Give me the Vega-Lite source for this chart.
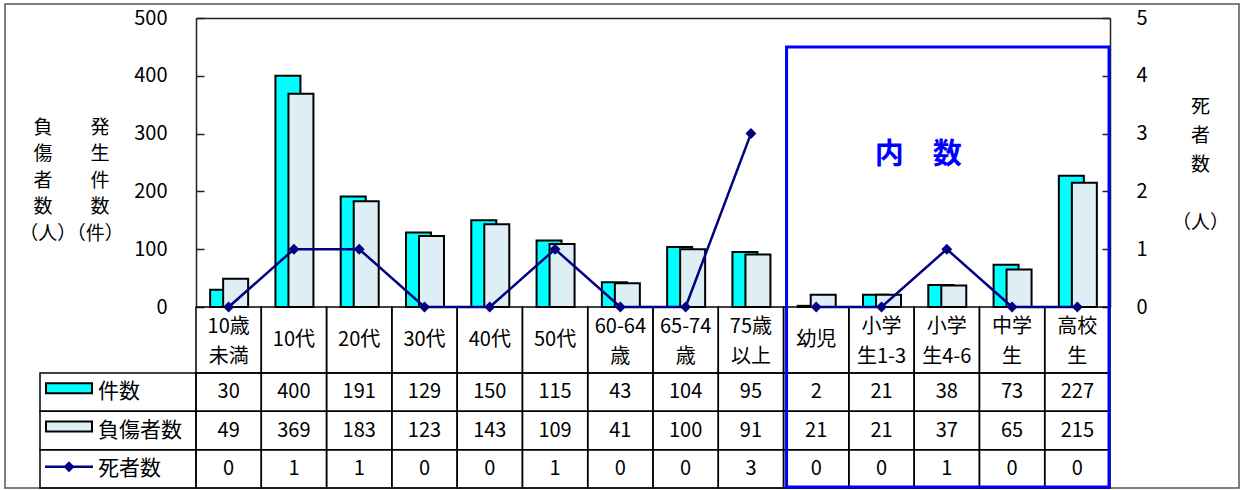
{
  "$schema": "https://vega.github.io/schema/vega-lite/v6.json",
  "width": 1234,
  "height": 484,
  "autosize": {"type": "none"},
  "padding": {"left": 5, "top": 4, "right": 1, "bottom": 2},
  "background": "white",
  "config": {
    "view": {"stroke": "#555555", "strokeWidth": 1.5},
    "font": "Noto Sans CJK JP",
    "text": {"font": "Noto Sans CJK JP", "color": "black"},
    "axis": {"labelFont": "Noto Sans CJK JP", "titleFont": "Noto Sans CJK JP", "labelColor": "black", "titleColor": "black", "grid": false, "domainColor": "#222222", "tickColor": "#222222", "domainWidth": 1.5, "tickWidth": 1.5}
  },
  "datasets": {
    "main": [
      {"cat": "10歳\n未満", "件数": 30, "負傷者数": 49, "死者数": 0, "区分": "全体"},
      {"cat": "10代", "件数": 400, "負傷者数": 369, "死者数": 1, "区分": "全体"},
      {"cat": "20代", "件数": 191, "負傷者数": 183, "死者数": 1, "区分": "全体"},
      {"cat": "30代", "件数": 129, "負傷者数": 123, "死者数": 0, "区分": "全体"},
      {"cat": "40代", "件数": 150, "負傷者数": 143, "死者数": 0, "区分": "全体"},
      {"cat": "50代", "件数": 115, "負傷者数": 109, "死者数": 1, "区分": "全体"},
      {"cat": "60-64\n歳", "件数": 43, "負傷者数": 41, "死者数": 0, "区分": "全体"},
      {"cat": "65-74\n歳", "件数": 104, "負傷者数": 100, "死者数": 0, "区分": "全体"},
      {"cat": "75歳\n以上", "件数": 95, "負傷者数": 91, "死者数": 3, "区分": "全体"},
      {"cat": "幼児", "件数": 2, "負傷者数": 21, "死者数": 0, "区分": "内数"},
      {"cat": "小学\n生1-3", "件数": 21, "負傷者数": 21, "死者数": 0, "区分": "内数"},
      {"cat": "小学\n生4-6", "件数": 38, "負傷者数": 37, "死者数": 1, "区分": "内数"},
      {"cat": "中学\n生", "件数": 73, "負傷者数": 65, "死者数": 0, "区分": "内数"},
      {"cat": "高校\n生", "件数": 227, "負傷者数": 215, "死者数": 0, "区分": "内数"}
    ]
  },
  "resolve": {"scale": {"x": "independent", "y": "independent"}},
  "layer": [
    {
      "data": {"name": "main"},
      "resolve": {"scale": {"y": "independent"}},
      "encoding": {
        "x": {
          "field": "cat", "type": "nominal",
          "scale": {"domain": ["10歳\n未満", "10代", "20代", "30代", "40代", "50代", "60-64\n歳", "65-74\n歳", "75歳\n以上", "幼児", "小学\n生1-3", "小学\n生4-6", "中学\n生", "高校\n生"], "range": [191, 1105], "paddingInner": 0, "paddingOuter": 0},
          "axis": {"orient": "top", "offset": -14, "labels": false, "ticks": false, "title": null, "domainColor": "#222222", "domainWidth": 1.5}
        }
      },
      "layer": [
        {
          "transform": [{"fold": ["cat"], "as": ["rowkey", "label"]}],
          "encoding": {
            "y": {"field": "rowkey", "type": "nominal", "scale": {"domain": ["cat"], "range": [303, 369], "paddingInner": 0, "paddingOuter": 0}, "axis": null}
          },
          "layer": [
            {"mark": {"type": "rect", "fill": "transparent", "stroke": "black", "strokeWidth": 1.5}},
            {
              "transform": [{"filter": "indexof(datum.label, '\\n') < 0"}],
              "mark": {"type": "text", "fontSize": 20, "baseline": "middle", "align": "center"},
              "encoding": {"text": {"field": "label"}}
            },
            {
              "transform": [{"filter": "indexof(datum.label, '\\n') >= 0"}],
              "mark": {"type": "text", "fontSize": 20, "lineBreak": "\n", "lineHeight": 30, "baseline": "middle", "align": "center", "dy": -13},
              "encoding": {"text": {"field": "label"}}
            }
          ]
        },
        {
          "transform": [{"fold": ["件数", "負傷者数", "死者数"], "as": ["row", "val"]}],
          "encoding": {
            "y": {"field": "row", "type": "nominal", "scale": {"domain": ["件数", "負傷者数", "死者数"], "range": [369, 484], "paddingInner": 0, "paddingOuter": 0}, "axis": null}
          },
          "layer": [
            {"mark": {"type": "rect", "fill": "transparent", "stroke": "black", "strokeWidth": 1.5}},
            {"mark": {"type": "text", "fontSize": 20, "baseline": "middle", "align": "center"}, "encoding": {"text": {"field": "val", "type": "quantitative"}}}
          ]
        },
        {
          "layer": [
            {
              "mark": {"type": "bar", "width": 25, "xOffset": -6, "fill": "#00FFFF", "stroke": "black", "strokeWidth": 2},
              "encoding": {
                "y": {
                  "field": "件数", "type": "quantitative",
                  "scale": {"domain": [0, 500], "range": [303, 14], "nice": false},
                  "axis": {
                    "orient": "left", "offset": -191, "values": [0, 100, 200, 300, 400, 500], "tickSize": -8, "labelPadding": 37,
                    "labelFontSize": 20, "labelFlush": false, "labelOverlap": false,
                    "title": ["負　　発", "傷　　生", "者　　件", "数　　数", "（人）（件）"],
                    "titleAngle": 0, "titleAlign": "center", "titleBaseline": "top", "titleX": -125, "titleY": 114,
                    "titleFontSize": 19, "titleFontWeight": "normal", "titleLineHeight": 26.5
                  }
                }
              }
            },
            {
              "mark": {"type": "bar", "width": 25, "xOffset": 7, "fill": "#DDEEF5", "stroke": "black", "strokeWidth": 2},
              "encoding": {
                "y": {
                  "field": "負傷者数", "type": "quantitative",
                  "axis": {
                    "orient": "left", "offset": -191, "values": [0, 100, 200, 300, 400, 500], "tickSize": -8, "labelPadding": 37,
                    "labelFontSize": 20, "labelFlush": false, "labelOverlap": false,
                    "title": ["負　　発", "傷　　生", "者　　件", "数　　数", "（人）（件）"],
                    "titleAngle": 0, "titleAlign": "center", "titleBaseline": "top", "titleX": -125, "titleY": 114,
                    "titleFontSize": 19, "titleFontWeight": "normal", "titleLineHeight": 26.5
                  }
                }
              }
            },
            {
              "data": {"values": [{"from": "幼児", "to": "高校\n生"}]},
              "mark": {"type": "rect", "fill": "transparent", "stroke": "#0000FF", "strokeWidth": 3, "xOffset": 3, "x2Offset": -1, "y2Offset": -1},
              "encoding": {
                "x": {"field": "from", "type": "nominal", "bandPosition": 0},
                "x2": {"field": "to", "bandPosition": 1},
                "y": {
                  "datum": 450, "type": "quantitative",
                  "axis": {
                    "orient": "left", "offset": -191, "values": [0, 100, 200, 300, 400, 500], "tickSize": -8, "labelPadding": 37,
                    "labelFontSize": 20, "labelFlush": false, "labelOverlap": false,
                    "title": ["負　　発", "傷　　生", "者　　件", "数　　数", "（人）（件）"],
                    "titleAngle": 0, "titleAlign": "center", "titleBaseline": "top", "titleX": -125, "titleY": 114,
                    "titleFontSize": 19, "titleFontWeight": "normal", "titleLineHeight": 26.5
                  }
                },
                "y2": {"value": "height"}
              }
            },
            {
              "data": {"values": [{"at": "小学\n生4-6"}]},
              "mark": {"type": "text", "text": "内　数", "fontSize": 29, "fontWeight": "bold", "color": "#0000FF", "dx": 4, "align": "center", "baseline": "middle"},
              "encoding": {
                "x": {"field": "at", "type": "nominal", "bandPosition": 0},
                "y": {
                  "datum": 263, "type": "quantitative",
                  "axis": {
                    "orient": "left", "offset": -191, "values": [0, 100, 200, 300, 400, 500], "tickSize": -8, "labelPadding": 37,
                    "labelFontSize": 20, "labelFlush": false, "labelOverlap": false,
                    "title": ["負　　発", "傷　　生", "者　　件", "数　　数", "（人）（件）"],
                    "titleAngle": 0, "titleAlign": "center", "titleBaseline": "top", "titleX": -125, "titleY": 114,
                    "titleFontSize": 19, "titleFontWeight": "normal", "titleLineHeight": 26.5
                  }
                }
              }
            }
          ]
        },
        {
          "encoding": {
            "y": {
              "field": "死者数", "type": "quantitative",
              "scale": {"domain": [0, 5], "range": [303, 14], "nice": false},
              "axis": {
                "orient": "right", "offset": -129, "values": [0, 1, 2, 3, 4, 5], "format": "d", "tickSize": -8, "labelPadding": 34,
                "labelFontSize": 20, "labelFlush": false, "labelOverlap": false,
                "title": ["死", "者", "数", "\u200b", "（人）"],
                "titleAngle": 0, "titleAlign": "center", "titleBaseline": "top", "titleX": 90, "titleY": 93,
                "titleFontSize": 19, "titleFontWeight": "normal", "titleLineHeight": 29
              }
            },
            "detail": {"field": "区分", "type": "nominal"}
          },
          "layer": [
            {"mark": {"type": "line", "color": "#000080", "strokeWidth": 2.5}},
            {"mark": {"type": "point", "shape": "diamond", "filled": true, "color": "#000080", "size": 120, "opacity": 1}}
          ]
        }
      ]
    },
    {
      "data": {"values": [{"col": "凡例", "row": "件数"}, {"col": "凡例", "row": "負傷者数"}, {"col": "凡例", "row": "死者数"}]},
      "encoding": {
        "x": {"field": "col", "type": "nominal", "scale": {"domain": ["凡例"], "range": [35, 191], "paddingInner": 0, "paddingOuter": 0}, "axis": null},
        "y": {"field": "row", "type": "nominal", "scale": {"domain": ["件数", "負傷者数", "死者数"], "range": [369, 484], "paddingInner": 0, "paddingOuter": 0}, "axis": null}
      },
      "layer": [
        {"mark": {"type": "rect", "fill": "transparent", "stroke": "black", "strokeWidth": 1.5}},
        {
          "transform": [{"filter": "datum.row === '件数'"}],
          "mark": {"type": "rect", "width": 46, "height": 10, "xOffset": -49, "yOffset": -4, "fill": "#00FFFF", "stroke": "black", "strokeWidth": 2}
        },
        {
          "transform": [{"filter": "datum.row === '負傷者数'"}],
          "mark": {"type": "rect", "width": 46, "height": 10, "xOffset": -49, "yOffset": -4, "fill": "#DDEEF5", "stroke": "black", "strokeWidth": 2}
        },
        {
          "transform": [{"filter": "datum.row === '死者数'"}],
          "mark": {"type": "rect", "width": 48, "height": 2.5, "xOffset": -49, "yOffset": -2, "fill": "#000080"}
        },
        {
          "transform": [{"filter": "datum.row === '死者数'"}],
          "mark": {"type": "point", "shape": "diamond", "filled": true, "color": "#000080", "size": 120, "opacity": 1, "xOffset": -49, "yOffset": -2}
        },
        {
          "mark": {"type": "text", "fontSize": 21, "align": "left", "baseline": "middle", "dx": 58},
          "encoding": {
            "x": {"field": "col", "type": "nominal", "bandPosition": 0},
            "text": {"field": "row"}
          }
        }
      ]
    }
  ]
}
